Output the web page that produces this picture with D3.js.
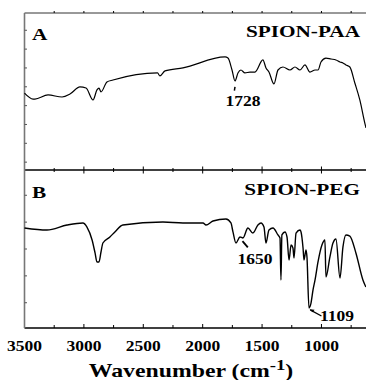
<!DOCTYPE html>
<html>
<head>
<meta charset="utf-8">
<script src="https://cdn.jsdelivr.net/npm/d3@7"></script>
<style>
  body { margin: 0; background: #fff; }
  svg text { font-family: "Liberation Serif", "Times New Roman", serif; font-weight: bold; }
</style>
</head>
<body>
<div id="chart"></div>
<script>
// wavenumber (cm-1) / transmittance (a.u.)
const paaWave = [3500, 3428, 3412, 3302, 3184, 3117, 3033, 2982, 2923, 2890, 2873, 2856, 2806, 2755,
  2380, 2360, 2317, 2166, 1812, 1787, 1753, 1728, 1703, 1678, 1644, 1602, 1560, 1493, 1467, 1442,
  1400, 1366, 1324, 1265, 1223, 1181, 1139, 1097, 1054, 1029, 1004, 962, 920, 878, 844, 819, 794,
  761, 719, 677, 635, 625];
const paaT = [49.0, 45.2, 45.2, 47.8, 46.5, 48.4, 52.9, 52.2, 44.6, 51.0, 52.2, 49.7, 56.1, 57.3,
  61.8, 59.9, 63.1, 65.0, 72.0, 71.3, 63.7, 56.7, 61.8, 63.7, 61.8, 62.4, 62.4, 70.1, 65.0, 62.4,
  54.8, 63.7, 65.6, 63.7, 65.6, 63.7, 66.9, 62.4, 63.7, 63.7, 68.8, 71.3, 70.7, 70.1, 68.8, 68.2, 66.9,
  65.6, 55.4, 44.6, 29.9, 26.8];

const pegWave = [3500, 3311, 3142, 3008, 2974, 2931, 2906, 2890, 2873, 2856, 2840, 2781, 2739, 2672,
  2335, 2166, 1997, 1972, 1913, 1804, 1762, 1745, 1720, 1686, 1661, 1619, 1577, 1535, 1509, 1484,
  1467, 1442, 1408, 1366, 1349, 1341, 1333, 1307, 1290, 1273, 1256, 1240, 1231, 1214, 1181, 1172,
  1155, 1147, 1130, 1122, 1105, 1088, 1071, 1054, 1029, 996, 971, 962, 929, 903, 878, 844, 819,
  794, 761, 710, 651, 626];
const pegT = [63.3, 62.0, 65.2, 66.5, 63.9, 55.7, 47.5, 41.8, 41.8, 48.1, 53.8, 57.6, 60.8, 65.2,
  67.1, 66.5, 66.5, 65.2, 67.7, 69.0, 66.5, 60.8, 53.8, 57.6, 57.0, 63.3, 60.1, 65.2, 66.5, 63.9,
  53.8, 62.0, 63.3, 58.9, 57.0, 30.4, 58.9, 60.8, 57.6, 43.0, 52.5, 50.6, 44.3, 60.1, 62.0, 60.8,
  50.6, 43.0, 49.4, 44.9, 12.7, 15.8, 24.1, 30.4, 41.8, 52.5, 55.7, 32.3, 44.9, 53.8, 56.3, 31.6, 51.3,
  58.9, 58.2, 47.5, 30.4, 25.9];

const xTicks = [3500, 3000, 2500, 2000, 1500, 1000];
const xMinor = [3250, 2750, 2250, 1750, 1250, 750];
const yTicksA = [5, 17, 29, 41, 53, 65, 77, 89];
const yTicksB = [16, 33, 50, 67, 84];

const W = 366, H = 380;
const left = 24.5, right = 366;
const topA = 13, mid = 170, bottom = 328;
const stretch = 1.25; // the original lettering is wide

const svg = d3.select("#chart").append("svg")
  .attr("width", W).attr("height", H);

const x = d3.scaleLinear().domain([3500, 625]).range([left, right]);
const yA = d3.scaleLinear().domain([0, 100]).range([mid, topA]);
const yB = d3.scaleLinear().domain([0, 100]).range([bottom, mid]);

// wide bold serif text
function label(px, py, str, size, anchor) {
  return svg.append("g")
    .attr("transform", `translate(${px},${py}) scale(${stretch},1)`)
    .append("text")
      .attr("text-anchor", anchor || "start")
      .style("font-size", size + "px")
      .text(str);
}

// frame lines
svg.append("line").attr("x1", left).attr("x2", right).attr("y1", topA).attr("y2", topA)
  .attr("stroke", "#333").attr("stroke-width", 1);
svg.append("line").attr("x1", left).attr("x2", right).attr("y1", mid).attr("y2", mid)
  .attr("stroke", "#000").attr("stroke-width", 1.3);
svg.append("line").attr("x1", left).attr("x2", right).attr("y1", bottom).attr("y2", bottom)
  .attr("stroke", "#000").attr("stroke-width", 1.3);
svg.append("line").attr("x1", left).attr("x2", left).attr("y1", topA).attr("y2", bottom)
  .attr("stroke", "#777").attr("stroke-width", 1.6);

// x ticks
const tk = svg.append("g").attr("stroke", "#000").attr("stroke-width", 1);
xTicks.slice(1).forEach(v => {
  tk.append("line").attr("x1", x(v)).attr("x2", x(v)).attr("y1", mid - 3.5).attr("y2", mid + 3.5);
  tk.append("line").attr("x1", x(v)).attr("x2", x(v)).attr("y1", bottom).attr("y2", bottom - 4);
  tk.append("line").attr("x1", x(v)).attr("x2", x(v)).attr("y1", topA).attr("y2", topA - 2);
});
xMinor.forEach(v => {
  tk.append("line").attr("x1", x(v)).attr("x2", x(v)).attr("y1", mid - 2).attr("y2", mid + 2);
  tk.append("line").attr("x1", x(v)).attr("x2", x(v)).attr("y1", bottom).attr("y2", bottom - 3);
  tk.append("line").attr("x1", x(v)).attr("x2", x(v)).attr("y1", topA).attr("y2", topA - 2);
});

// y ticks (small, inward)
const ytk = svg.append("g").attr("stroke", "#555").attr("stroke-width", 1);
yTicksA.forEach(v => ytk.append("line").attr("x1", left).attr("x2", left + 2.5).attr("y1", yA(v)).attr("y2", yA(v)));
yTicksB.forEach(v => ytk.append("line").attr("x1", left).attr("x2", left + 2.5).attr("y1", yB(v)).attr("y2", yB(v)));

// x tick labels
xTicks.forEach(d => label(x(d), 351, d, 14, "middle"));

// axis title
const title = label(191, 377, "", 19, "middle");
title.append("tspan").text("Wavenumber (cm");
title.append("tspan").attr("dy", -7).style("font-size", "15px").text("-1");
title.append("tspan").attr("dy", 7).text(")");

// spectra
const lineA = d3.line().x(d => x(d[0])).y(d => yA(d[1])).curve(d3.curveMonotoneX);
const lineB = d3.line().x(d => x(d[0])).y(d => yB(d[1])).curve(d3.curveMonotoneX);
svg.append("path").datum(d3.zip(paaWave, paaT))
  .attr("fill", "none").attr("stroke", "#000").attr("stroke-width", 1.2).attr("d", lineA);
svg.append("path").datum(d3.zip(pegWave, pegT))
  .attr("fill", "none").attr("stroke", "#000").attr("stroke-width", 1.4).attr("d", lineB);

// panel labels
label(32, 40, "A", 17);
label(360, 37, "SPION-PAA", 17, "end");
label(32, 198, "B", 17);
label(360, 195, "SPION-PEG", 17, "end");

// peak annotations
svg.append("line").attr("x1", x(1728)).attr("x2", x(1733)).attr("y1", yA(53)).attr("y2", yA(50.5))
  .attr("stroke", "#000").attr("stroke-width", 1.5);
label(x(1660), 106, "1728", 14, "middle");

svg.append("line").attr("x1", x(1665)).attr("x2", x(1620)).attr("y1", yB(55)).attr("y2", yB(51))
  .attr("stroke", "#000").attr("stroke-width", 1.8);
label(x(1560), 264, "1650", 14, "middle");

svg.append("line").attr("x1", x(1095)).attr("x2", x(1000)).attr("y1", yB(11.5)).attr("y2", yB(7.6))
  .attr("stroke", "#000").attr("stroke-width", 1.3);
svg.append("path").attr("d", `M${x(1100)},${yB(11.8)} l5,0.3 l-2,2.5 z`).attr("fill", "#000");
label(x(870), 321, "1109", 14, "middle");
</script>
</body>
</html>
